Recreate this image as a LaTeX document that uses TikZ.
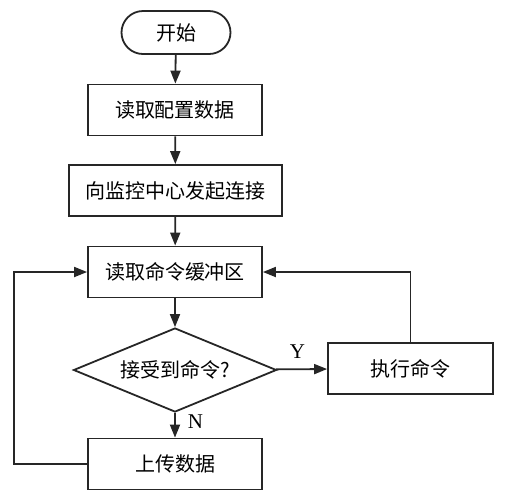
\documentclass[tikz,border=0pt]{standalone}
\usepackage{fontspec}
\setmainfont{Liberation Serif}
\newfontfamily\cjk{Noto Sans CJK SC}
\usetikzlibrary{shapes.geometric,arrows.meta}

\tikzset{
  stepbox/.style={draw=black!85,line width=0.9pt,minimum width=87pt,minimum height=25.5pt,
    inner sep=0pt,font=\cjk\fontsize{10}{11}\selectfont},
  termbox/.style={stepbox,minimum width=54.5pt,minimum height=21.5pt,rounded corners=10.75pt},
  askbox/.style={stepbox,diamond,aspect=2.4,minimum width=101.5pt,minimum height=42pt},
  flow/.style={draw=black!85,line width=0.9pt,-{Triangle[length=6.5pt,width=5pt]}},
  yn/.style={font=\fontsize{10.5}{12}\selectfont,inner sep=0pt}
}

\begin{document}
\begin{tikzpicture}[x=0.5pt,y=0.5pt]
  \useasboundingbox (0,0) rectangle (526,-500);
  % steps
  \node[termbox] (start) at (176,-32.5) {开始};
  \node[stepbox] (cfg) at (175,-110) {读取配置数据};
  \node[stepbox,minimum width=106.5pt] (conn) at (175.5,-190.5) {向监控中心发起连接};
  \node[stepbox] (readbuf) at (175,-272) {读取命令缓冲区};
  \node[askbox] (ask) at (175,-370) {接受到命令?};
  \node[stepbox,minimum width=82.5pt] (exec) at (410.5,-368.5) {执行命令};
  \node[stepbox] (upload) at (175,-464) {上传数据};
  \coordinate (leftrail) at (14,-272);
  % connectors
  \draw[flow] (start) -- (cfg);
  \draw[flow] (cfg) -- (conn);
  \draw[flow] (conn) -- (readbuf);
  \draw[flow] (readbuf) -- (ask);
  \draw[flow] (ask) -- node[yn,pos=0.42,above=5pt] (ylab) {Y} (exec);
  \draw[flow] (ask) -- node[yn,pos=0.35,right=6pt] (nlab) {N} (upload);
  \draw[flow] (exec.north) |- (readbuf.east);
  \draw[flow] (upload.west) -| (leftrail) -- (readbuf.west);
\end{tikzpicture}
\end{document}
